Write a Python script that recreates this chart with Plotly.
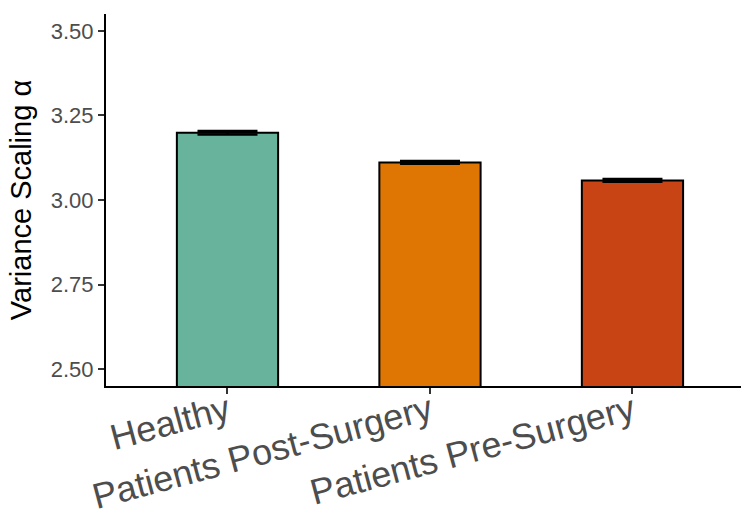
import plotly.graph_objects as go

categories = ["Healthy", "Patients Post-Surgery", "Patients Pre-Surgery"]
values = [3.199, 3.111, 3.058]
errors = [0.005, 0.004, 0.004]
colors = ["#67B39B", "#DF7604", "#C84414"]
y_ticks = [2.50, 2.75, 3.00, 3.25, 3.50]
y_tick_text = ["2.50", "2.75", "3.00", "3.25", "3.50"]

fig = go.Figure()
fig.add_trace(go.Bar(
    x=categories,
    y=values,
    width=0.5,
    marker=dict(color=colors, line=dict(color="black", width=2)),
    error_y=dict(type="data", array=errors, visible=True,
                 color="black", thickness=2.5, width=30),
    showlegend=False,
))

fig.update_layout(
    width=741, height=517,
    margin=dict(l=106, r=0, t=14, b=131, autoexpand=False),
    paper_bgcolor="white", plot_bgcolor="white",
    font=dict(family="Liberation Sans, Arial, sans-serif"),
    bargap=0.5,
)
fig.update_xaxes(
    range=[-0.6, 2.536],
    automargin=False,
    showline=True, linecolor="black", linewidth=2,
    ticks="outside", ticklen=6, tickwidth=1.5, tickcolor="#333333",
    tickangle=-15,
    ticklabelstandoff=-18,
    tickfont=dict(size=36, color="#4D4D4D"),
    showgrid=False, zeroline=False,
)
fig.update_yaxes(
    range=[2.45, 3.55],
    automargin=False,
    tickvals=y_ticks, ticktext=y_tick_text,
    showline=True, linecolor="black", linewidth=2,
    ticks="outside", ticklen=6, tickwidth=1.5, tickcolor="#333333",
    tickfont=dict(size=22, color="#4D4D4D"),
    title=dict(text="Variance Scaling α", font=dict(size=29, color="black"), standoff=11),
    showgrid=False, zeroline=False,
)

fig.write_html("out.html")
